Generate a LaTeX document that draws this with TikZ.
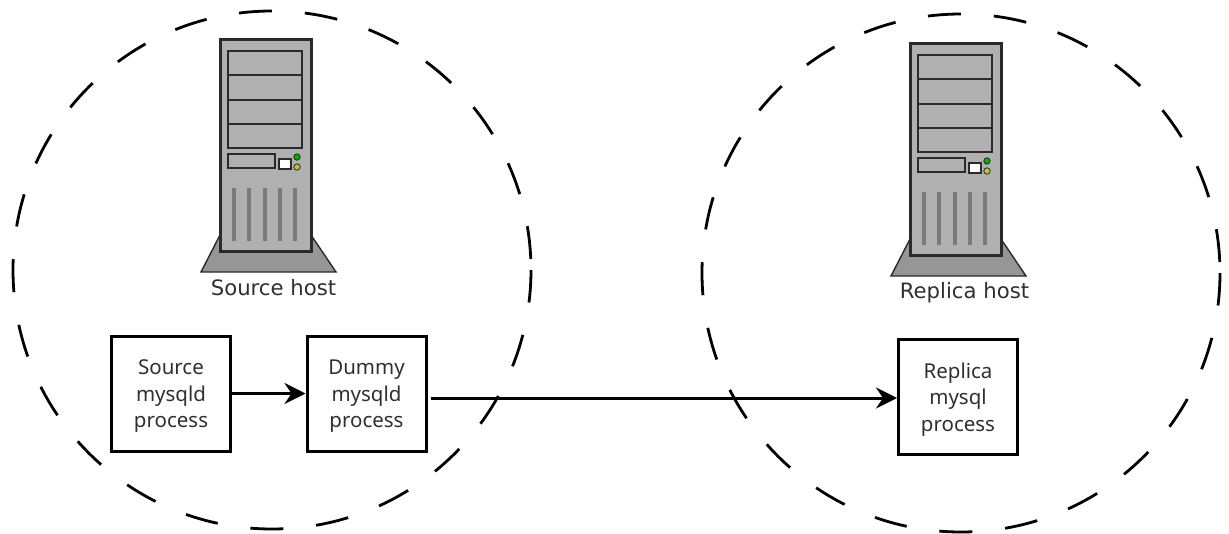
\documentclass[tikz,border=0pt]{standalone}
\usepackage{fontspec}
\setmainfont{Noto Sans}
\newfontfamily\hostfont{DejaVu Sans}
\usetikzlibrary{arrows.meta,shapes.geometric}
\definecolor{case}{HTML}{B0B0B0}
\definecolor{basegray}{HTML}{969696}
\definecolor{edge}{HTML}{2A2A2A}
\definecolor{txt}{HTML}{303030}
\newcommand{\lowerstrut}{\rule{0pt}{20.5pt}}
\tikzset{
  hostring/.style={ellipse,draw=black,line width=2.8pt,dash pattern=on 33pt off 33pt,dash phase=55pt,minimum width=518pt,minimum height=518pt,inner sep=0pt,outer sep=0pt},
  procbox/.style={draw=black,line width=3pt,fill=white,minimum width=119pt,minimum height=115pt,align=center,inner sep=0pt,font=\fontsize{20.5}{26.5}\selectfont,text=txt},
  flow/.style={-{Stealth[length=21pt,width=21pt,inset=7pt]},line width=3pt,black},
  hostlabel/.style={font=\hostfont\fontsize{21.2}{24}\selectfont,text=txt,inner sep=0pt},
  part/.style={draw=edge,line width=2.4pt},
  server/.pic={
    \draw[draw=edge,line width=1.4pt,fill=basegray] (0,196)--(-19,233)--(116,233)--(91,196)--cycle;
    \draw[part,line width=3pt,fill=case] (0,0) rectangle (91,212);
    \draw[part,fill=case] (8,12) rectangle (82,109);
    \draw[part,line width=2.8pt] (8,36)--(82,36) (8,61)--(82,61) (8,85)--(82,85);
    \draw[part,fill=case] (8,115) rectangle (55,129);
    \draw[part,fill=white,line width=2pt] (59,120) rectangle (71,130);
    \draw[draw=edge,fill=green!70!black,line width=.8pt] (77,118) circle (3.2pt);
    \draw[draw=edge,fill=yellow!75!black,line width=.8pt] (77,128) circle (3.2pt);
    \foreach \vx in {14,29,45,60,75}
      \draw[draw=black!52,line width=3.4pt] (\vx,149)--(\vx,202);
  }
}
\begin{document}
\begin{tikzpicture}[x=1pt,y=-1pt]
\useasboundingbox (0,0) rectangle (1229,533);
\fill[white] (0,0) rectangle (1229,533);
\node[hostring] (ringL) at (272,270) {};
\node[hostring] (ringR) at (961,273) {};
\pic at (220,39) {server};
\pic at (910,43) {server};
\node[hostlabel] (hostL) at (273.5,288) {Source host};
\node[hostlabel] (hostR) at (964.5,293) {Replica host};
\node[procbox] (src) at (171,393.5) {\lowerstrut Source\\mysqld\\process};
\node[procbox] (dum) at (366.5,393.5) {\lowerstrut Dummy\\mysqld\\process};
\node[procbox] (rep) at (958,397) {\lowerstrut Replica\\mysql\\process};
\coordinate (dumOut) at ([xshift=3pt,yshift=-4.5pt]dum.east);
\draw[flow] (src.east) -- (dum.west);
\draw[flow] (dumOut) -- (dumOut-|rep.west);
\end{tikzpicture}
\end{document}
